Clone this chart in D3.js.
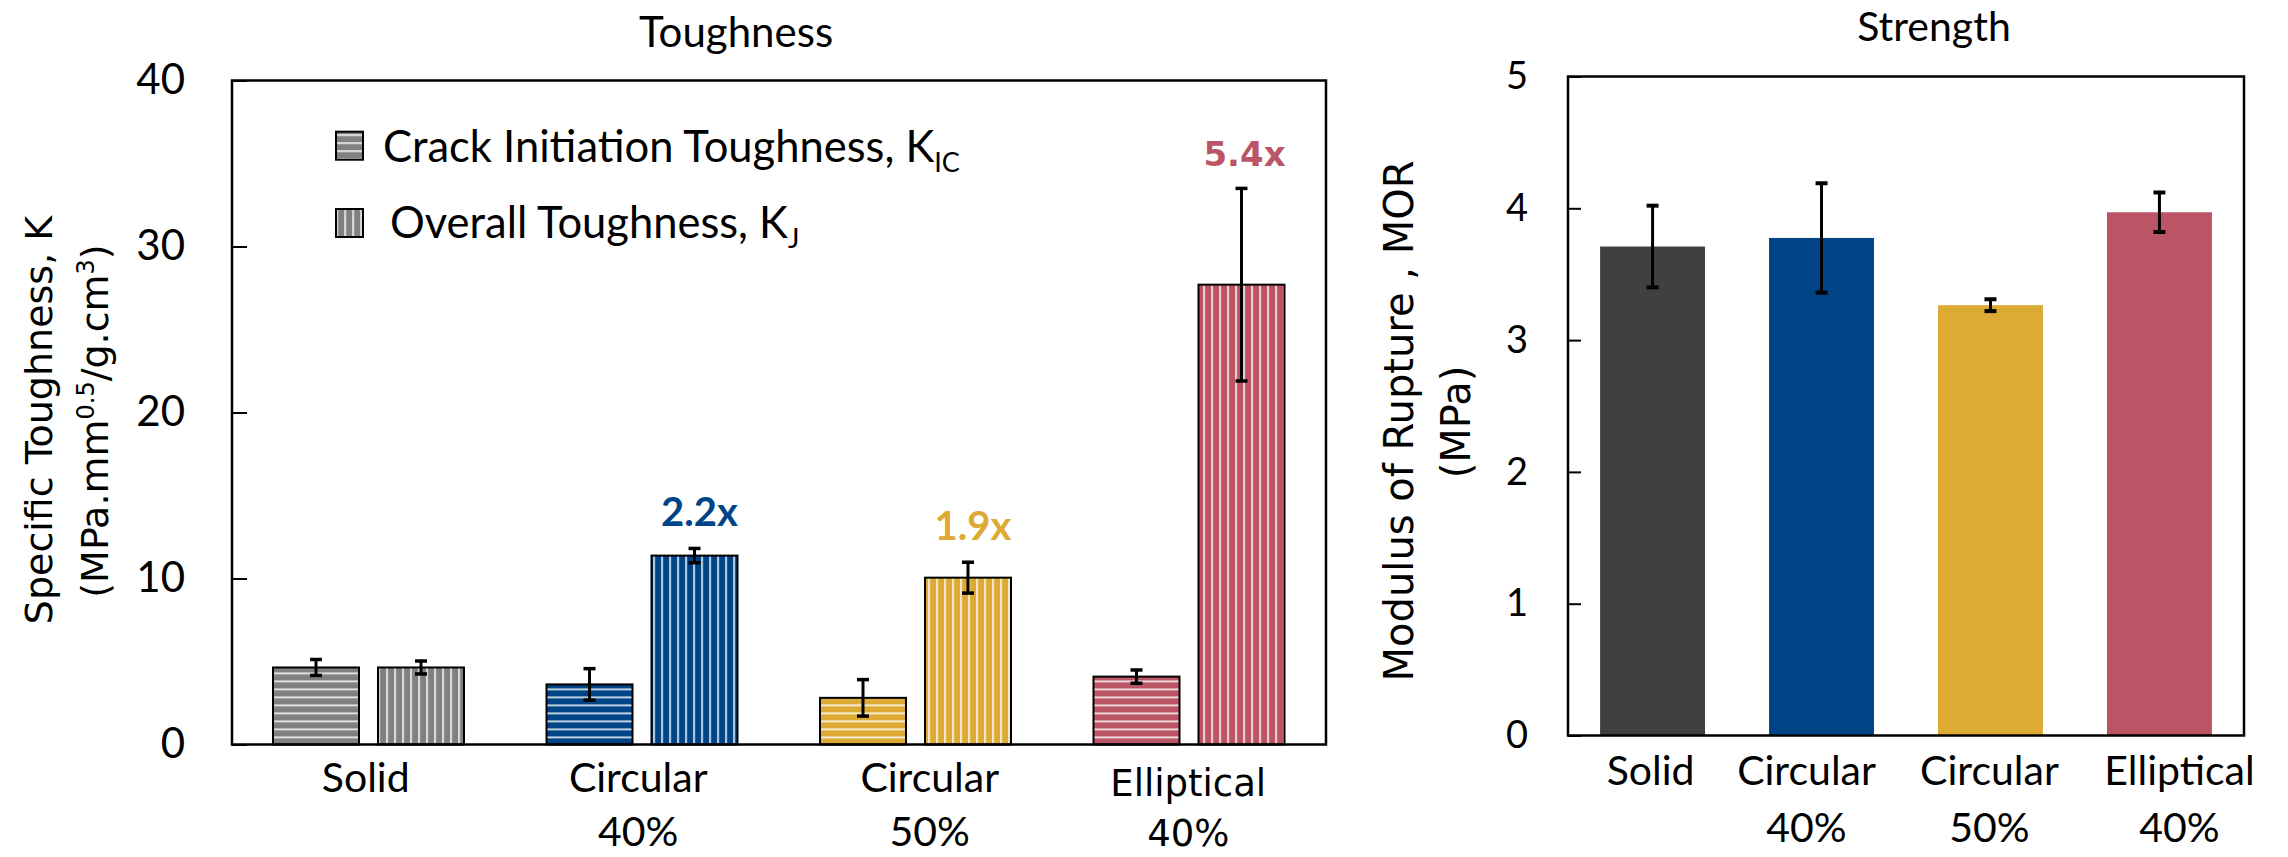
<!DOCTYPE html>
<html>
<head>
<meta charset="utf-8">
<script src="https://cdn.jsdelivr.net/npm/d3@7"></script>
<style>
  body { margin: 0; background: #fff; }
  svg { display: block; }
</style>
</head>
<body>
<svg id="chart" width="2288" height="857"></svg>
<script>
// ---- data ----
const groups = ["Solid", "Circular 40%", "Circular 50%", "Elliptical 40%"];
const groupLine1 = ["Solid", "Circular", "Circular", "Elliptical"];
const groupLine2 = ["", "40%", "50%", "40%"];

// specific toughness (MPa.mm^0.5 / g.cm^3)
const kIC = [4.64, 3.62, 2.81, 4.09];
const kICErr = [0.48, 0.95, 1.10, 0.40];
const kJ = [4.64, 11.38, 10.05, 27.70];
const kJErr = [0.39, 0.43, 0.93, 5.80];
const gainLabels = ["", "2.2x", "1.9x", "5.4x"];

// modulus of rupture (MPa)
const mor = [3.71, 3.775, 3.265, 3.97];
const morErr = [0.31, 0.415, 0.045, 0.15];

const kTicks = [0, 10, 20, 30, 40];
const morTicks = [0, 1, 2, 3, 4, 5];

const seriesKeys = ["KIC", "KJ"];
const seriesNames = ["Crack Initiation Toughness, K", "Overall Toughness, K"];
const seriesSubs = ["IC", "J"];

// ---- styling ----
const groupColors = ["#808080", "#004488", "#DDAA33", "#BB5566"];
const morColors = ["#404040", "#004488", "#DDAA33", "#BB5566"];
const sansC = "Lato, 'Open Sans', sans-serif";
const sansV = "'DejaVu Sans', Verdana, sans-serif";

const svg = d3.select("#chart");
const defs = svg.append("defs");

// striped fill: a colour tile crossed by one thin white line every 8px
function stripePattern(id, color, vertical, ox, oy) {
  const p = defs.append("pattern")
    .attr("id", id)
    .attr("patternUnits", "userSpaceOnUse")
    .attr("x", ox).attr("y", oy)
    .attr("width", 8).attr("height", 8);
  p.append("rect").attr("width", 8).attr("height", 8).attr("fill", color);
  if (vertical) {
    p.append("rect").attr("x", 0.1).attr("y", 0).attr("width", 1.5).attr("height", 8).attr("fill", "#fff");
  } else {
    p.append("rect").attr("x", 0).attr("y", 0.1).attr("width", 8).attr("height", 1.5).attr("fill", "#fff");
  }
  return `url(#${id})`;
}

// =================== Toughness panel ===================
const L = { left: 232, right: 1326, top: 80.5, bottom: 744.5 };
const x0 = d3.scaleBand().domain(groups).range([L.left, L.right]);
const x1 = d3.scaleBand().domain(seriesKeys).range([41, 232]).paddingInner(0.181);
const yK = d3.scaleLinear().domain([0, 40]).range([L.bottom, L.top]);

const kRows = groups.map((g, i) => ({
  group: g, i,
  bars: [
    { key: "KIC", value: kIC[i], err: kICErr[i] },
    { key: "KJ", value: kJ[i], err: kJErr[i] }
  ]
}));

const gLeft = svg.append("g");

const gGroups = gLeft.selectAll("g.grp").data(kRows).join("g")
  .attr("class", "grp")
  .attr("transform", d => `translate(${x0(d.group)},0)`);

gGroups.each(function (row) {
  const g = d3.select(this);
  const bx = x0(row.group);
  row.bars.forEach(b => {
    const xb = x1(b.key);
    const vertical = b.key === "KJ";
    const fill = stripePattern(`p-${b.key}-${row.i}`, groupColors[row.i], vertical,
      vertical ? bx + xb + 8.2 : 0, vertical ? 0 : L.bottom);
    g.append("rect")
      .attr("x", xb)
      .attr("y", yK(b.value))
      .attr("width", x1.bandwidth())
      .attr("height", yK(0) - yK(b.value))
      .attr("fill", fill)
      .attr("stroke", "#000")
      .attr("stroke-width", 2);
    const cx = xb + x1.bandwidth() / 2;
    g.append("line")
      .attr("x1", cx).attr("x2", cx)
      .attr("y1", yK(b.value + b.err)).attr("y2", yK(b.value - b.err))
      .attr("stroke", "#000").attr("stroke-width", 3);
    [b.value + b.err, b.value - b.err].forEach(v => {
      g.append("line")
        .attr("x1", cx - 6).attr("x2", cx + 6)
        .attr("y1", yK(v)).attr("y2", yK(v))
        .attr("stroke", "#000").attr("stroke-width", 3.5);
    });
  });
  // improvement factor above the overall-toughness bar
  if (gainLabels[row.i]) {
    const isLast = row.i === 3;
    g.append("text")
      .attr("x", x1("KJ") + x1.bandwidth() / 2 + (isLast ? 3 : 5))
      .attr("y", yK(kJ[row.i] + kJErr[row.i]) - 22)
      .attr("text-anchor", "middle")
      .attr("font-family", isLast ? sansV : sansC)
      .attr("font-weight", "bold")
      .attr("font-size", isLast ? 34 : 40)
      .attr("fill", groupColors[row.i])
      .text(gainLabels[row.i]);
  }
});

// frame
gLeft.append("rect")
  .attr("x", L.left).attr("y", L.top)
  .attr("width", L.right - L.left).attr("height", L.bottom - L.top)
  .attr("fill", "none").attr("stroke", "#000").attr("stroke-width", 2.5);

// y axis
const axK = gLeft.append("g")
  .attr("transform", `translate(${L.left},0)`)
  .call(d3.axisLeft(yK).tickValues(kTicks).tickFormat(d3.format("d"))
    .tickSize(-15).tickSizeOuter(0).tickPadding(47));
axK.select(".domain").remove();
axK.selectAll(".tick line").attr("stroke", "#000").attr("stroke-width", 2);
axK.selectAll(".tick text").attr("font-family", sansC).attr("font-size", 42).attr("fill", "#000");

// category labels
const kLabelDx = [-3, -4, 14, -1];
groups.forEach((g, i) => {
  const isEll = i === 3;
  const t = gLeft.append("text")
    .attr("text-anchor", "middle")
    .attr("font-family", isEll ? sansV : sansC)
    .attr("font-size", isEll ? 37 : 41)
    .attr("fill", "#000");
  const cx = x0(g) + x0.bandwidth() / 2 + kLabelDx[i];
  t.append("tspan").attr("x", cx).attr("y", isEll ? 796 : 792).text(groupLine1[i]);
  if (groupLine2[i]) t.append("tspan").attr("x", cx).attr("y", 846).text(groupLine2[i]);
});

// title
gLeft.append("text")
  .attr("x", 736).attr("y", 47)
  .attr("text-anchor", "middle")
  .attr("font-family", sansC).attr("font-size", 42)
  .text("Toughness");

// legend
const legendY = [131.7, 209];
const legendTextX = [383, 390];
const legendBase = [161.7, 238];
seriesKeys.forEach((k, i) => {
  const vertical = k === "KJ";
  const fill = stripePattern(`p-leg-${k}`, groupColors[0], vertical,
    vertical ? 344.3 : 0, vertical ? 0 : 142.3);
  gLeft.append("rect")
    .attr("x", 336).attr("y", legendY[i])
    .attr("width", 27).attr("height", 28)
    .attr("fill", fill).attr("stroke", "#000").attr("stroke-width", 2);
  const t = gLeft.append("text")
    .attr("x", legendTextX[i]).attr("y", legendBase[i])
    .attr("font-family", sansC).attr("font-size", 43.5);
  t.append("tspan").text(seriesNames[i]);
  t.append("tspan").attr("dy", 10).attr("font-size", 27).text(seriesSubs[i]);
});

// y title
gLeft.append("text")
  .attr("transform", "translate(52,420) rotate(-90)")
  .attr("text-anchor", "middle")
  .attr("font-family", sansV).attr("font-size", 38)
  .text("Specific Toughness, K");
const yt2 = gLeft.append("text")
  .attr("transform", "translate(108,421) rotate(-90)")
  .attr("text-anchor", "middle")
  .attr("font-family", sansV).attr("font-size", 38);
yt2.append("tspan").text("(MPa.mm");
yt2.append("tspan").attr("dy", -14).attr("font-size", 24).text("0.5");
yt2.append("tspan").attr("dy", 14).text("/g.cm");
yt2.append("tspan").attr("dy", -14).attr("font-size", 24).text("3");
yt2.append("tspan").attr("dy", 14).text(")");

// =================== Strength panel ===================
const R = { left: 1568, right: 2244, top: 76.5, bottom: 735.5 };
const xR = d3.scaleBand().domain(groups).range([R.left, R.right]).paddingInner(0.379).paddingOuter(0.19);
const yR = d3.scaleLinear().domain([0, 5]).range([R.bottom, R.top]);

const morRows = groups.map((g, i) => ({ group: g, i, value: mor[i], err: morErr[i] }));
const gRight = svg.append("g");

gRight.selectAll("rect.bar").data(morRows).join("rect")
  .attr("class", "bar")
  .attr("x", d => xR(d.group))
  .attr("y", d => yR(d.value))
  .attr("width", xR.bandwidth())
  .attr("height", d => yR(0) - yR(d.value))
  .attr("fill", d => morColors[d.i]);

const eb = gRight.selectAll("g.err").data(morRows).join("g").attr("class", "err");
eb.append("line")
  .attr("x1", d => xR(d.group) + xR.bandwidth() / 2)
  .attr("x2", d => xR(d.group) + xR.bandwidth() / 2)
  .attr("y1", d => yR(d.value + d.err))
  .attr("y2", d => yR(d.value - d.err))
  .attr("stroke", "#000").attr("stroke-width", 3);
[1, -1].forEach(s => {
  eb.append("line")
    .attr("x1", d => xR(d.group) + xR.bandwidth() / 2 - 6)
    .attr("x2", d => xR(d.group) + xR.bandwidth() / 2 + 6)
    .attr("y1", d => yR(d.value + s * d.err))
    .attr("y2", d => yR(d.value + s * d.err))
    .attr("stroke", "#000").attr("stroke-width", 4);
});

gRight.append("rect")
  .attr("x", R.left).attr("y", R.top)
  .attr("width", R.right - R.left).attr("height", R.bottom - R.top)
  .attr("fill", "none").attr("stroke", "#000").attr("stroke-width", 2.5);

const axR = gRight.append("g")
  .attr("transform", `translate(${R.left},0)`)
  .call(d3.axisLeft(yR).tickValues(morTicks).tickFormat(d3.format("d"))
    .tickSize(-13).tickSizeOuter(0).tickPadding(40));
axR.select(".domain").remove();
axR.selectAll(".tick line").attr("stroke", "#000").attr("stroke-width", 2);
axR.selectAll(".tick text").attr("font-family", sansC).attr("font-size", 38).attr("fill", "#000");

const rLabelDx = [-2, -15, -1, 20];
groups.forEach((g, i) => {
  const t = gRight.append("text")
    .attr("text-anchor", "middle")
    .attr("font-family", sansC).attr("font-size", 41).attr("fill", "#000");
  const cx = xR(g) + xR.bandwidth() / 2 + rLabelDx[i];
  t.append("tspan").attr("x", cx).attr("y", 785).text(groupLine1[i]);
  if (groupLine2[i]) t.append("tspan").attr("x", cx).attr("y", 842).text(groupLine2[i]);
});

gRight.append("text")
  .attr("x", 1934).attr("y", 41)
  .attr("text-anchor", "middle")
  .attr("font-family", sansC).attr("font-size", 41)
  .text("Strength");

gRight.append("text")
  .attr("transform", "translate(1413,421) rotate(-90)")
  .attr("text-anchor", "middle")
  .attr("font-family", sansV).attr("font-size", 40)
  .text("Modulus of Rupture , MOR");
gRight.append("text")
  .attr("transform", "translate(1470,422) rotate(-90)")
  .attr("text-anchor", "middle")
  .attr("font-family", sansV).attr("font-size", 40)
  .text("(MPa)");
</script>
</body>
</html>
